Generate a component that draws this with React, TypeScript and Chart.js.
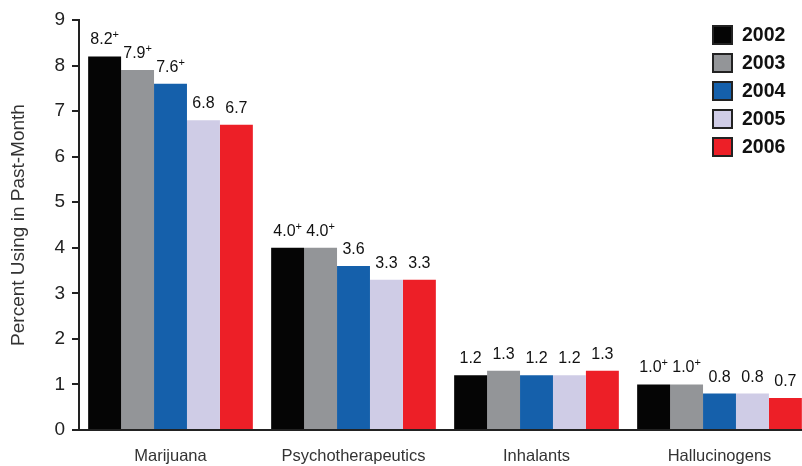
import React, { useEffect, useRef } from "react";
import { Chart, registerables } from "chart.js";

Chart.register(...registerables);

const categories = ["Marijuana", "Psychotherapeutics", "Inhalants", "Hallucinogens"];
const years = ["2002", "2003", "2004", "2005", "2006"];

const values2002 = [8.2, 4.0, 1.2, 1.0];
const values2003 = [7.9, 4.0, 1.3, 1.0];
const values2004 = [7.6, 3.6, 1.2, 0.8];
const values2005 = [6.8, 3.3, 1.2, 0.8];
const values2006 = [6.7, 3.3, 1.3, 0.7];

// "+" marks a difference from 2006 that is statistically significant
const sig2002 = [true, true, false, true];
const sig2003 = [true, true, false, true];
const sig2004 = [true, false, false, false];
const sig2005 = [false, false, false, false];
const sig2006 = [false, false, false, false];

const yTicks = [0, 1, 2, 3, 4, 5, 6, 7, 8, 9];

const colors = ["#050505", "#939598", "#1560ab", "#cfcce6", "#ed1f27"];

const seriesValues = [values2002, values2003, values2004, values2005, values2006];
const seriesSig = [sig2002, sig2003, sig2004, sig2005, sig2006];

const FONT = "'Liberation Sans', Arial, Helvetica, sans-serif";

// The last group runs right up to the canvas edge, so the category
// axis is stretched a little past the right border of the plot.
const EXTEND_RIGHT = 9;

const stretchX = {
  id: "stretchX",
  afterLayout(chart: any) {
    const x = chart.scales.x;
    x.right += EXTEND_RIGHT;
    x.width += EXTEND_RIGHT;
    x.configure();
    chart.chartArea.right += EXTEND_RIGHT;
    chart.chartArea.width += EXTEND_RIGHT;
  },
};

const valueLabels = {
  id: "valueLabels",
  afterDatasetsDraw(chart: any) {
    const ctx = chart.ctx;
    ctx.save();
    chart.data.datasets.forEach((ds: any, di: number) => {
      const meta = chart.getDatasetMeta(di);
      meta.data.forEach((bar: any, i: number) => {
        const v = ds.data[i] as number;
        const txt = v.toFixed(1);
        const plus = seriesSig[di][i];
        ctx.font = `16px ${FONT}`;
        const w1 = ctx.measureText(txt).width;
        ctx.font = `11px ${FONT}`;
        const w2 = plus ? ctx.measureText("+").width : 0;
        const total = w1 + w2;
        const x0 = bar.x - total / 2;
        const y = bar.y - 12;
        ctx.fillStyle = "#111";
        ctx.textAlign = "left";
        ctx.textBaseline = "alphabetic";
        ctx.font = `16px ${FONT}`;
        ctx.fillText(txt, x0, y);
        if (plus) {
          ctx.font = `11px ${FONT}`;
          ctx.fillText("+", x0 + w1, y - 6);
        }
      });
    });
    ctx.restore();
  },
};

const boxLegend = {
  id: "boxLegend",
  afterDraw(chart: any) {
    const ctx = chart.ctx;
    ctx.save();
    const x = 712;
    const y0 = 25;
    const step = 28;
    chart.data.datasets.forEach((ds: any, i: number) => {
      const y = y0 + i * step;
      ctx.fillStyle = ds.backgroundColor;
      ctx.fillRect(x, y, 21, 20);
      ctx.strokeStyle = "#222";
      ctx.lineWidth = 2;
      ctx.strokeRect(x + 1, y + 1, 19, 18);
      ctx.fillStyle = "#111";
      ctx.font = `bold 19.5px ${FONT}`;
      ctx.textAlign = "left";
      ctx.textBaseline = "middle";
      ctx.fillText(ds.label, x + 30, y + 11);
    });
    ctx.restore();
  },
};

export default function App() {
  const ref = useRef<HTMLCanvasElement | null>(null);

  useEffect(() => {
    document.body.style.margin = "0";
    const canvas = ref.current;
    if (!canvas) return;
    const chart = new Chart(canvas, {
      type: "bar",
      data: {
        labels: categories,
        datasets: years.map((y, i) => ({
          label: y,
          data: seriesValues[i],
          backgroundColor: colors[i],
          borderWidth: 0,
          categoryPercentage: 0.9,
          barPercentage: 1,
        })),
      },
      options: {
        responsive: false,
        animation: false,
        devicePixelRatio: 1,
        layout: { padding: { top: 20, right: 0, bottom: 0, left: 0 } },
        plugins: {
          legend: { display: false },
          tooltip: { enabled: false },
        },
        scales: {
          x: {
            grid: { display: false, drawTicks: false },
            border: { display: true, color: "#222", width: 2 },
            ticks: {
              color: "#333",
              font: { family: FONT, size: 16.5 },
              padding: 17,
            },
            afterFit(scale: any) {
              scale.height = 36;
            },
          },
          y: {
            min: 0,
            max: 9,
            afterBuildTicks(scale: any) {
              scale.ticks = yTicks.map((v) => ({ value: v }));
            },
            grid: { drawOnChartArea: false, drawTicks: true, tickLength: 7, color: "#222", lineWidth: 2 },
            border: { display: true, color: "#222", width: 2 },
            ticks: {
              color: "#222",
              font: { family: FONT, size: 19 },
              padding: 7,
            },
            title: {
              display: true,
              text: "Percent Using in Past-Month",
              color: "#333",
              font: { family: FONT, size: 19 },
              padding: { top: 7, bottom: 10 },
            },
            afterFit(scale: any) {
              scale.width = 79;
            },
          },
        },
      },
      plugins: [stretchX, valueLabels, boxLegend],
    });
    return () => chart.destroy();
  }, []);

  return (
    <div style={{ position: "fixed", left: 0, top: 0, width: 802, height: 466 }}>
      <canvas ref={ref} width={802} height={466} />
    </div>
  );
}
